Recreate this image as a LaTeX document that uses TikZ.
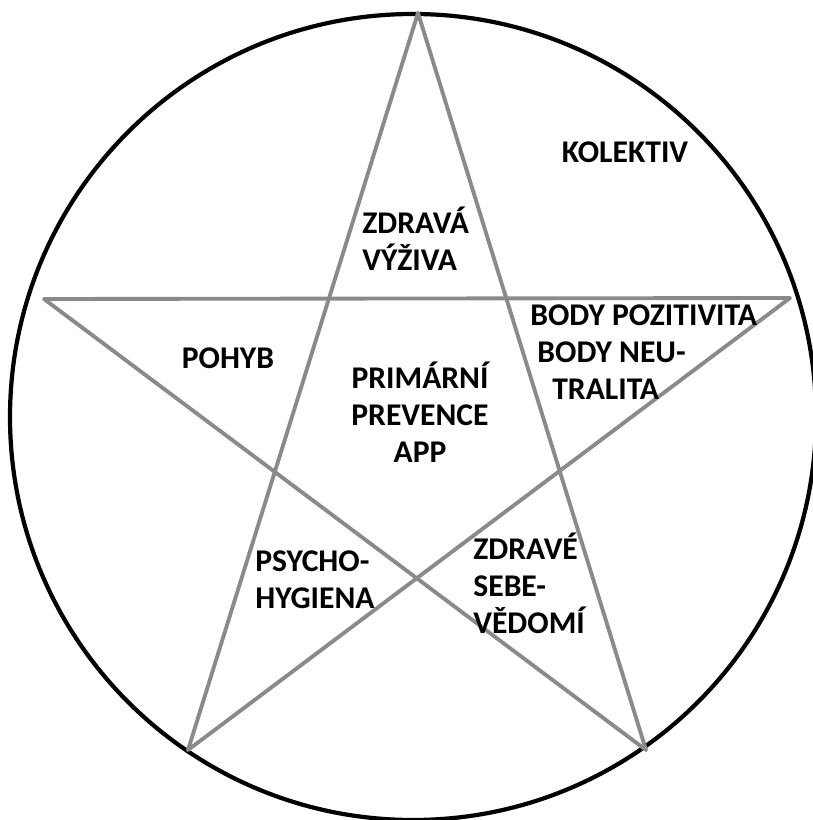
\documentclass[tikz,border=0pt]{standalone}
\usepackage{fontspec}
\setmainfont{Carlito}
\usetikzlibrary{positioning}
\definecolor{ink}{HTML}{000000}
\definecolor{gr}{HTML}{8A8A8A}
\tikzset{
  ring/.style={draw=ink,line width=2.4pt},
  ray/.style={draw=gr,line width=2.2pt,line cap=round,line join=round},
  lab/.style={font=\bfseries\fontsize{18}{21}\selectfont,text=ink,inner sep=0pt},
  labl/.style={lab,align=left,anchor=west},
  labc/.style={lab,align=center}
}

\begin{document}
\begin{tikzpicture}[x=0.02cm,y=-0.02cm]
\useasboundingbox (0,0) rectangle (812,820);
% outer circle
\coordinate (mid) at (413,417);
\draw[ring] (mid) circle[radius=403];
% star tips
\coordinate (top)  at (418,13);
\coordinate (lt)   at (44,299);
\coordinate (rt)   at (790,298);
\coordinate (bl)   at (188,750);
\coordinate (br)   at (646,750);
\draw[ray] (top) -- (bl);
\draw[ray] (top) -- (br);
\draw[ray] (lt) -- (rt);
\draw[ray] (lt) -- (br);
\draw[ray] (rt) -- (bl);
% labels
\node[labc] (kolektiv) at (625,152) {KOLEKTIV};
\node[labl] (vyziva)   at (362,239) {ZDRAVÁ\\VÝŽIVA};
\node[labc] (pohyb)    at (228,358) {POHYB};
\node[labc] (app)      at (420,412) {PRIMÁRNÍ\\PREVENCE\\APP};
\node[labl] (body)     at (530,352) {BODY POZITIVITA\\\hspace*{4pt}BODY NEU-\\\hspace*{12.5pt}TRALITA};
\node[labl] (psycho)   at (255,580) {PSYCHO-\\HYGIENA};
\node[labl] (sebe)     at (473,583) {ZDRAVÉ\\SEBE-\\VĚDOMÍ};
\end{tikzpicture}
\end{document}
